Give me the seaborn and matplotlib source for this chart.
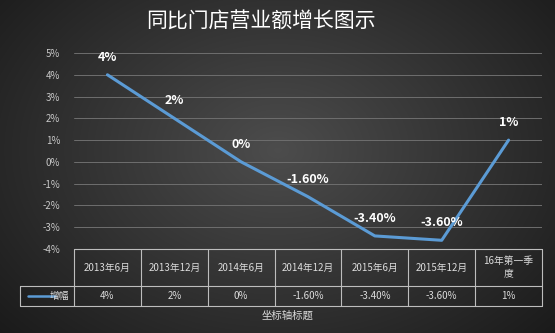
import numpy as np
import pandas as pd
import matplotlib
matplotlib.use("Agg")
import matplotlib.pyplot as plt
import seaborn as sns

categories = ["2013年6月", "2013年12月", "2014年6月", "2014年12月", "2015年6月", "2015年12月", "16年第一季\n度"]
growth = [4.0, 2.0, 0.0, -1.6, -3.4, -3.6, 1.0]
value_labels = ["4%", "2%", "0%", "-1.60%", "-3.40%", "-3.60%", "1%"]
yticks = [5, 4, 3, 2, 1, 0, -1, -2, -3, -4]
series_name = "增幅"
title = "同比门店营业额增长图示"
axis_title = "坐标轴标题"

sns.set_theme(style="dark")
plt.rcParams["font.family"] = ["Noto Sans CJK SC", "DejaVu Sans"]
plt.rcParams["axes.unicode_minus"] = False

W, H = 555, 333
fig = plt.figure(figsize=(W / 100, H / 100), dpi=100)

# radial dark-gray background
bg = fig.add_axes([0, 0, 1, 1])
yy, xx = np.mgrid[0:H, 0:W]
r = np.sqrt(((xx - W * 0.5) / (W * 0.62)) ** 2 + ((yy - H * 0.45) / (H * 0.75)) ** 2)
shade = np.clip(0.30 - 0.18 * r, 0.09, 0.30)
bg.imshow(np.dstack([shade] * 3), extent=[0, 1, 0, 1], aspect="auto", origin="upper")
bg.set_axis_off()

left, right, top, bottom = 74, 542, 53, 249
ax = fig.add_axes([left / W, 1 - bottom / H, (right - left) / W, (bottom - top) / H])
ax.patch.set_alpha(0)

df = pd.DataFrame({"x": np.arange(len(categories)), "y": growth})
sns.lineplot(data=df, x="x", y="y", ax=ax, color="#5b9bd5", lw=2.2, zorder=3)

ax.set_xlim(-0.5, len(categories) - 0.5)
ax.set_ylim(-4, 5)
ax.set_yticks(yticks)
ax.set_yticklabels([f"{t}%" for t in yticks], color="#c8c8c8", fontsize=7)
ax.set_xticks([])
ax.set_xlabel("")
ax.set_ylabel("")
for t in yticks:
    ax.axhline(t, color="#6e6e6e", lw=0.7, zorder=1)
for s in ax.spines.values():
    s.set_visible(False)
ax.tick_params(axis="y", length=0, pad=10)

for i, (v, lab) in enumerate(zip(growth, value_labels)):
    ax.annotate(lab, (i, v), xytext=(0, 8), textcoords="offset points",
                ha="center", va="bottom", color="white", fontsize=9, fontweight="bold", zorder=4)

# data table under the plot
trans = ax.get_xaxis_transform()
h_top, h_mid, h_bot = 0.0, -(286 - 249) / 196, -(306 - 249) / 196
xl = -0.5 - (74 - 20) / ((right - left) / len(categories))
n = len(categories)
lc = "#bdbdbd"
kw = dict(transform=trans, color=lc, lw=0.8, clip_on=False)
ax.plot([-0.5, n - 0.5], [h_top, h_top], **kw)
ax.plot([xl, n - 0.5], [h_mid, h_mid], **kw)
ax.plot([xl, n - 0.5], [h_bot, h_bot], **kw)
ax.plot([xl, xl], [h_mid, h_bot], **kw)
for k in range(n + 1):
    ax.plot([k - 0.5, k - 0.5], [h_top, h_bot], **kw)
for i, c in enumerate(categories):
    ax.text(i, (h_top + h_mid) / 2, c, transform=trans, ha="center", va="center",
            color="#dcdcdc", fontsize=7, linespacing=1.3)
    ax.text(i, (h_mid + h_bot) / 2, value_labels[i], transform=trans, ha="center", va="center",
            color="#dcdcdc", fontsize=7)
ax.plot([xl + 0.12, xl + 0.52], [(h_mid + h_bot) / 2] * 2, transform=trans,
        color="#5b9bd5", lw=1.8, clip_on=False)
ax.text(-0.58, (h_mid + h_bot) / 2, series_name, transform=trans, ha="right", va="center",
        color="#dcdcdc", fontsize=7)

fig.text(288 / W, 1 - 316 / H, axis_title, ha="center", va="center",
         color="#dcdcdc", fontsize=7.5)
fig.text(261 / W, 1 - 22 / H, title, ha="center", va="center", color="white", fontsize=15)

fig.savefig("out.png", dpi=100)
